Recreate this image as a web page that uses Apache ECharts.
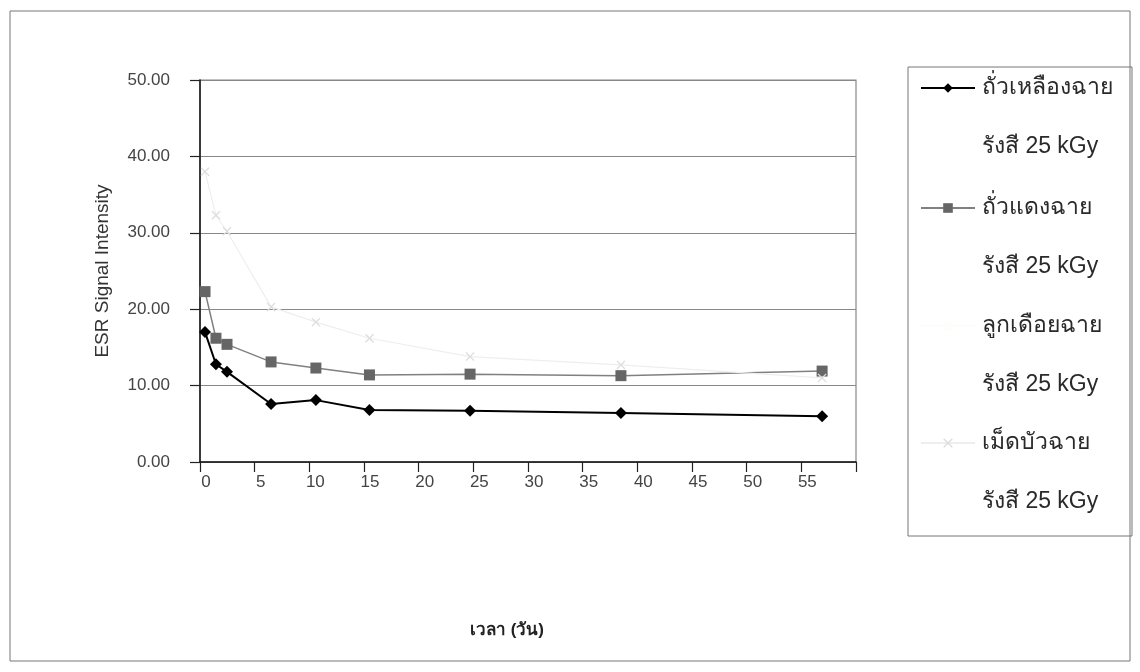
<!DOCTYPE html>
<html>
<head>
<meta charset="utf-8">
<script src="https://cdn.jsdelivr.net/npm/echarts@6/dist/echarts.min.js"></script>
<style>
  html, body { margin: 0; padding: 0; background: #fff; }
  #chart { width: 1140px; height: 672px; }
</style>
</head>
<body>
<div id="chart"></div>
<script>
// Sampling days after irradiation
const days = [0.46, 1.46, 2.47, 6.5, 10.6, 15.5, 24.7, 38.5, 56.9];

// ESR signal intensity for each irradiated sample
const soybean = [17.0, 12.8, 11.8, 7.6, 8.1, 6.8, 6.7, 6.4, 6.0];
const redBean = [22.3, 16.2, 15.4, 13.1, 12.3, 11.4, 11.5, 11.3, 11.9];
const jobsTears = [];
const lotusSeed = [38.0, 32.3, 30.2, 20.3, 18.3, 16.2, 13.8, 12.7, 11.0];

const seriesNames = [
  'ถั่วเหลืองฉาย\nรังสี 25 kGy',
  'ถั่วแดงฉาย\nรังสี 25 kGy',
  'ลูกเดือยฉาย\nรังสี 25 kGy',
  'เม็ดบัวฉาย\nรังสี 25 kGy'
];

const xTickLabels = ['0', '5', '10', '15', '20', '25', '30', '35', '40', '45', '50', '55'];

const crossPath = 'path://M0,1 L1,0 L5,4 L9,0 L10,1 L6,5 L10,9 L9,10 L5,6 L1,10 L0,9 L4,5 Z';

function pairs(values) {
  return values.map((v, i) => [days[i], v]);
}

const chart = echarts.init(document.getElementById('chart'));

const LINE_H = 59;
const legendText = {
  fontFamily: 'Arial, "Liberation Sans", "Noto Sans", sans-serif',
  fontSize: 23,
  color: '#2a2a2a',
  lineHeight: LINE_H,
  padding: [0, 0, 0, 2]
};

// one legend block per series; a leading blank line keeps each icon on the first text line
const firstLineCenters = [88, 208, 326, 443];
const legends = seriesNames.map((name, i) => ({
  data: [name],
  orient: 'vertical',
  left: 920,
  top: firstLineCenters[i] - LINE_H * 1.5,
  itemWidth: 54,
  itemHeight: 12,
  itemGap: 0,
  padding: 0,
  selectedMode: false,
  formatter: n => '\n' + n,
  textStyle: legendText
}));

chart.setOption({
  backgroundColor: '#fff',
  animation: false,
  graphic: [
    {
      type: 'rect',
      shape: { x: 10, y: 11, width: 1120, height: 650 },
      style: { fill: 'none', stroke: '#777', lineWidth: 1 }
    },
    {
      type: 'rect',
      shape: { x: 908, y: 67, width: 224, height: 469 },
      style: { fill: 'none', stroke: '#777', lineWidth: 1 }
    }
  ],
  legend: legends,
  grid: {
    left: 200,
    right: 284,
    top: 80,
    bottom: 210,
    show: true,
    borderColor: '#888',
    borderWidth: 1.2
  },
  xAxis: {
    type: 'value',
    min: 0,
    max: 60,
    interval: 5,
    name: 'เวลา (วัน)',
    nameLocation: 'middle',
    nameGap: 160,
    nameTextStyle: {
      fontFamily: 'Arial, "Liberation Sans", "Noto Sans", sans-serif',
      fontSize: 17,
      fontWeight: 'bold',
      color: '#222',
      padding: [0, 42, 0, 0]
    },
    axisLine: { show: true, onZero: false, lineStyle: { color: '#111', width: 1.5 } },
    axisTick: { show: true, inside: false, length: 10, lineStyle: { color: '#222', width: 1.2 } },
    splitLine: { show: false },
    axisLabel: {
      margin: 12,
      fontFamily: 'Arial, "Liberation Sans", "Noto Sans", sans-serif',
      fontSize: 17,
      color: '#444',
      padding: [0, 0, 0, 12],
      formatter: v => {
        const idx = Math.round(v / 5);
        return idx < xTickLabels.length ? xTickLabels[idx] : '';
      }
    }
  },
  yAxis: {
    type: 'value',
    min: 0,
    max: 50,
    interval: 10,
    name: 'ESR Signal Intensity',
    nameLocation: 'middle',
    nameGap: 88,
    nameTextStyle: {
      fontFamily: 'Arial, "Liberation Sans", "Noto Sans", sans-serif',
      fontSize: 19,
      color: '#333'
    },
    axisLine: { show: true, lineStyle: { color: '#111', width: 1.5 } },
    axisTick: { show: true, length: 10, lineStyle: { color: '#222', width: 1.2 } },
    splitLine: { show: true, lineStyle: { color: '#888', width: 1.2 } },
    axisLabel: {
      margin: 30,
      fontFamily: 'Arial, "Liberation Sans", "Noto Sans", sans-serif',
      fontSize: 17,
      color: '#444',
      formatter: v => v.toFixed(2)
    }
  },
  series: [
    {
      name: seriesNames[0],
      type: 'line',
      data: pairs(soybean),
      symbol: 'diamond',
      symbolSize: 12,
      color: '#000',
      lineStyle: { color: '#000', width: 2 },
      itemStyle: { color: '#000' }
    },
    {
      name: seriesNames[1],
      type: 'line',
      data: pairs(redBean),
      symbol: 'rect',
      symbolSize: 11,
      color: '#666',
      lineStyle: { color: '#808080', width: 1.5 },
      itemStyle: { color: '#666' }
    },
    {
      name: seriesNames[2],
      type: 'line',
      data: pairs(jobsTears),
      symbol: 'none',
      color: '#fdfdfb',
      lineStyle: { color: '#fdfdfb', width: 1 }
    },
    {
      name: seriesNames[3],
      type: 'line',
      data: pairs(lotusSeed),
      symbol: crossPath,
      symbolSize: 9,
      color: '#e6e6e6',
      lineStyle: { color: '#eeeeee', width: 1.2 },
      itemStyle: { color: '#dddddd' }
    }
  ]
});
</script>
</body>
</html>
